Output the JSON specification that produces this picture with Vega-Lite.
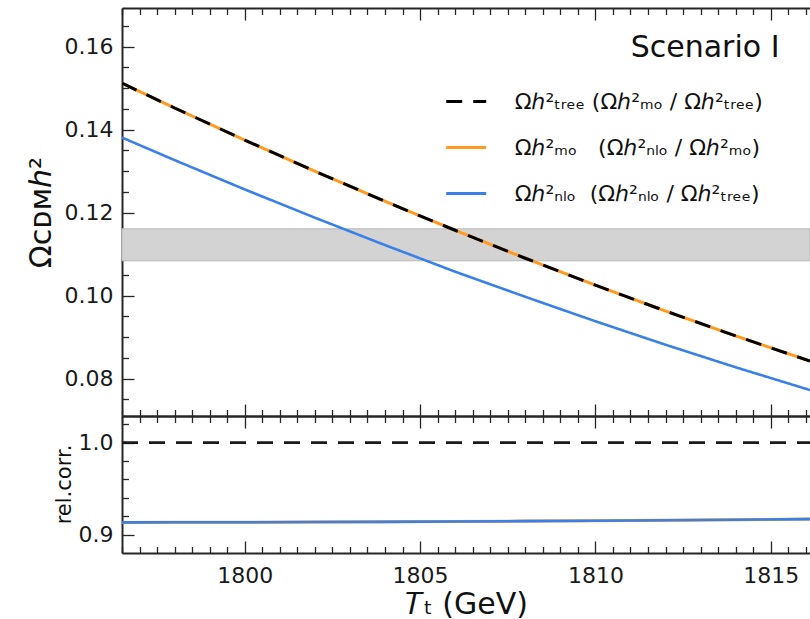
{
  "$schema": "https://vega.github.io/schema/vega-lite/v6.json",
  "background": "white",
  "padding": {"left": 26, "top": 7, "right": 0, "bottom": 0},
  "config": {
    "font": "DejaVu Sans",
    "view": {"stroke": null},
    "axis": {
      "domainColor": "#262626",
      "domainWidth": 2,
      "tickColor": "#262626",
      "tickWidth": 1.3,
      "labelColor": "#1a1a1a",
      "labelFontSize": 22,
      "labelFont": "DejaVu Sans",
      "titleFont": "DejaVu Sans",
      "titleColor": "#111111",
      "titleFontWeight": "normal",
      "grid": false,
      "labelOverlap": false,
      "labelFlush": false,
      "labelBound": false
    },
    "legend": {
      "orient": "none",
      "legendX": 322.7,
      "legendY": 72,
      "symbolType": "stroke",
      "symbolSize": 1600,
      "symbolStrokeWidth": 3,
      "labelFont": "DejaVu Sans",
      "labelFontSize": 22,
      "labelColor": "#111111",
      "labelOffset": 27,
      "rowPadding": 13,
      "labelLimit": 1000,
      "padding": 0
    }
  },
  "datasets": {
    "omega": [
      {"Tt": 1796.5, "series": "tree", "omega": 0.15118},
      {"Tt": 1798, "series": "tree", "omega": 0.14521},
      {"Tt": 1800, "series": "tree", "omega": 0.13747},
      {"Tt": 1802, "series": "tree", "omega": 0.12998},
      {"Tt": 1804, "series": "tree", "omega": 0.12274},
      {"Tt": 1805, "series": "tree", "omega": 0.11921},
      {"Tt": 1806, "series": "tree", "omega": 0.11575},
      {"Tt": 1808, "series": "tree", "omega": 0.10901},
      {"Tt": 1810, "series": "tree", "omega": 0.10252},
      {"Tt": 1812, "series": "tree", "omega": 0.09629},
      {"Tt": 1814, "series": "tree", "omega": 0.0903},
      {"Tt": 1816.12, "series": "tree", "omega": 0.08424},
      {"Tt": 1796.5, "series": "MO", "omega": 0.15118},
      {"Tt": 1798, "series": "MO", "omega": 0.14521},
      {"Tt": 1800, "series": "MO", "omega": 0.13747},
      {"Tt": 1802, "series": "MO", "omega": 0.12998},
      {"Tt": 1804, "series": "MO", "omega": 0.12274},
      {"Tt": 1805, "series": "MO", "omega": 0.11921},
      {"Tt": 1806, "series": "MO", "omega": 0.11575},
      {"Tt": 1808, "series": "MO", "omega": 0.10901},
      {"Tt": 1810, "series": "MO", "omega": 0.10252},
      {"Tt": 1812, "series": "MO", "omega": 0.09629},
      {"Tt": 1814, "series": "MO", "omega": 0.0903},
      {"Tt": 1816.12, "series": "MO", "omega": 0.08424},
      {"Tt": 1796.5, "series": "NLO", "omega": 0.13809},
      {"Tt": 1798, "series": "NLO", "omega": 0.13265},
      {"Tt": 1800, "series": "NLO", "omega": 0.12559},
      {"Tt": 1802, "series": "NLO", "omega": 0.11878},
      {"Tt": 1804, "series": "NLO", "omega": 0.11218},
      {"Tt": 1805, "series": "NLO", "omega": 0.10898},
      {"Tt": 1806, "series": "NLO", "omega": 0.10577},
      {"Tt": 1808, "series": "NLO", "omega": 0.09972},
      {"Tt": 1810, "series": "NLO", "omega": 0.09383},
      {"Tt": 1812, "series": "NLO", "omega": 0.08817},
      {"Tt": 1814, "series": "NLO", "omega": 0.08274},
      {"Tt": 1816.12, "series": "NLO", "omega": 0.07725}
    ],
    "ratio": [
      {"Tt": 1796.5, "series": "tree", "rel": 1.0},
      {"Tt": 1816.12, "series": "tree", "rel": 1.0},
      {"Tt": 1796.5, "series": "MO", "rel": 0.9134},
      {"Tt": 1798, "series": "MO", "rel": 0.9135},
      {"Tt": 1800, "series": "MO", "rel": 0.9136},
      {"Tt": 1802, "series": "MO", "rel": 0.9138},
      {"Tt": 1804, "series": "MO", "rel": 0.914},
      {"Tt": 1806, "series": "MO", "rel": 0.9144},
      {"Tt": 1808, "series": "MO", "rel": 0.9148},
      {"Tt": 1810, "series": "MO", "rel": 0.9152},
      {"Tt": 1812, "series": "MO", "rel": 0.9157},
      {"Tt": 1814, "series": "MO", "rel": 0.9163},
      {"Tt": 1816.12, "series": "MO", "rel": 0.917},
      {"Tt": 1796.5, "series": "NLO", "rel": 0.9134},
      {"Tt": 1798, "series": "NLO", "rel": 0.9135},
      {"Tt": 1800, "series": "NLO", "rel": 0.9136},
      {"Tt": 1802, "series": "NLO", "rel": 0.9138},
      {"Tt": 1804, "series": "NLO", "rel": 0.914},
      {"Tt": 1806, "series": "NLO", "rel": 0.9144},
      {"Tt": 1808, "series": "NLO", "rel": 0.9148},
      {"Tt": 1810, "series": "NLO", "rel": 0.9152},
      {"Tt": 1812, "series": "NLO", "rel": 0.9157},
      {"Tt": 1814, "series": "NLO", "rel": 0.9163},
      {"Tt": 1816.12, "series": "NLO", "rel": 0.917}
    ],
    "band": [
      {"lo": 0.1084, "hi": 0.1161}
    ]
  },
  "spacing": 0,
  "bounds": "flush",
  "vconcat": [
    {
      "width": 688,
      "height": 408,
      "layer": [
        {
          "data": {"name": "band"},
          "mark": {"type": "rect", "fill": "#d3d3d3", "stroke": "#b9b9b9", "strokeWidth": 1},
          "encoding": {
            "x": {"datum": 1796.5, "type": "quantitative", "scale": {"domain": [1796.5, 1816.12], "nice": false, "zero": false}, "axis": null},
            "x2": {"datum": 1816.12},
            "y": {
              "field": "lo", "type": "quantitative",
              "scale": {"domain": [0.071, 0.1693], "nice": false, "zero": false},
              "axis": {
                "orient": "left",
                "values": [0.075, 0.08, 0.085, 0.09, 0.095, 0.1, 0.105, 0.11, 0.115, 0.12, 0.125, 0.13, 0.135, 0.14, 0.145, 0.15, 0.155, 0.16, 0.165],
                "tickSize": {"condition": {"test": "abs(datum.value * 50 - round(datum.value * 50)) < 1e-6", "value": -12}, "value": -6.5},
                "labelExpr": "abs(datum.value * 50 - round(datum.value * 50)) < 1e-6 ? format(datum.value, '.2f') : ''",
                "labelPadding": 21,
                "title": "Ωᴄᴅᴍℎ²",
                "titleFontSize": 30,
                "titleAngle": -90,
                "titleX": -72,
                "titleY": 204,
                "titleAlign": "center",
                "titleBaseline": "alphabetic"
              }
            },
            "y2": {"field": "hi"}
          }
        },
        {
          "data": {"name": "omega"},
          "transform": [{"filter": "datum.series === 'MO'"}],
          "mark": {"type": "line", "strokeWidth": 3, "clip": true},
          "encoding": {
            "x": {
              "field": "Tt", "type": "quantitative",
              "scale": {"domain": [1796.5, 1816.12], "nice": false, "zero": false},
              "axis": {
                "orient": "bottom",
                "values": [1796.5, 1797, 1797.5, 1798, 1798.5, 1799, 1799.5, 1800, 1800.5, 1801, 1801.5, 1802, 1802.5, 1803, 1803.5, 1804, 1804.5, 1805, 1805.5, 1806, 1806.5, 1807, 1807.5, 1808, 1808.5, 1809, 1809.5, 1810, 1810.5, 1811, 1811.5, 1812, 1812.5, 1813, 1813.5, 1814, 1814.5, 1815, 1815.5, 1816],
                "tickSize": {"condition": {"test": "datum.value % 5 === 0", "value": -12}, "value": -6.5},
                "labels": false,
                "title": null
              }
            },
            "y": {"field": "omega", "type": "quantitative", "scale": {"domain": [0.071, 0.1693], "nice": false, "zero": false}, "axis": null},
            "color": {
              "field": "series", "type": "nominal", "title": null,
              "scale": {"domain": ["tree", "MO", "NLO"], "range": ["#000000", "#ff9a1e", "#3a80e8"]},
              "legend": {"labelExpr": "datum.value === 'tree' ? 'Ωℎ²ₜᵣₑₑ (Ωℎ²ₘₒ / Ωℎ²ₜᵣₑₑ)' : datum.value === 'MO' ? 'Ωℎ²ₘₒ\u00a0\u00a0\u00a0(Ωℎ²ₙₗₒ / Ωℎ²ₘₒ)' : 'Ωℎ²ₙₗₒ\u00a0\u00a0(Ωℎ²ₙₗₒ / Ωℎ²ₜᵣₑₑ)'"}
            },
            "strokeDash": {
              "field": "series", "type": "nominal", "title": null,
              "scale": {"domain": ["tree", "MO", "NLO"], "range": [[16, 11], [1, 0], [1, 0]]},
              "legend": {"labelExpr": "datum.value === 'tree' ? 'Ωℎ²ₜᵣₑₑ (Ωℎ²ₘₒ / Ωℎ²ₜᵣₑₑ)' : datum.value === 'MO' ? 'Ωℎ²ₘₒ\u00a0\u00a0\u00a0(Ωℎ²ₙₗₒ / Ωℎ²ₘₒ)' : 'Ωℎ²ₙₗₒ\u00a0\u00a0(Ωℎ²ₙₗₒ / Ωℎ²ₜᵣₑₑ)'"}
            }
          }
        },
        {
          "data": {"name": "omega"},
          "transform": [{"filter": "datum.series === 'NLO'"}],
          "mark": {"type": "line", "strokeWidth": 2.6, "clip": true},
          "encoding": {
            "x": {
              "field": "Tt", "type": "quantitative",
              "scale": {"domain": [1796.5, 1816.12], "nice": false, "zero": false},
              "axis": {
                "orient": "top",
                "values": [1796.5, 1797, 1797.5, 1798, 1798.5, 1799, 1799.5, 1800, 1800.5, 1801, 1801.5, 1802, 1802.5, 1803, 1803.5, 1804, 1804.5, 1805, 1805.5, 1806, 1806.5, 1807, 1807.5, 1808, 1808.5, 1809, 1809.5, 1810, 1810.5, 1811, 1811.5, 1812, 1812.5, 1813, 1813.5, 1814, 1814.5, 1815, 1815.5, 1816],
                "tickSize": {"condition": {"test": "datum.value % 5 === 0", "value": -12}, "value": -6.5},
                "labels": false,
                "title": null
              }
            },
            "y": {"field": "omega", "type": "quantitative", "scale": {"domain": [0.071, 0.1693], "nice": false, "zero": false}, "axis": null},
            "color": {"field": "series", "type": "nominal", "title": null},
            "strokeDash": {"field": "series", "type": "nominal", "title": null}
          }
        },
        {
          "data": {"name": "omega"},
          "transform": [{"filter": "datum.series === 'tree'"}],
          "mark": {"type": "line", "strokeWidth": 3, "clip": true},
          "encoding": {
            "x": {"field": "Tt", "type": "quantitative", "scale": {"domain": [1796.5, 1816.12], "nice": false, "zero": false}, "axis": null},
            "y": {"field": "omega", "type": "quantitative", "scale": {"domain": [0.071, 0.1693], "nice": false, "zero": false}, "axis": null},
            "color": {"field": "series", "type": "nominal", "title": null},
            "strokeDash": {"field": "series", "type": "nominal", "title": null}
          }
        },
        {
          "data": {"values": [{"label": "Scenario I"}]},
          "mark": {"type": "text", "align": "right", "baseline": "alphabetic", "fontSize": 30, "font": "DejaVu Sans", "color": "#111111"},
          "encoding": {
            "x": {"datum": 1815.25, "type": "quantitative", "scale": {"domain": [1796.5, 1816.12], "nice": false, "zero": false}, "axis": null},
            "y": {"datum": 0.1575, "type": "quantitative", "scale": {"domain": [0.071, 0.1693], "nice": false, "zero": false}, "axis": null},
            "text": {"field": "label"}
          }
        }
      ],
      "resolve": {"axis": {"x": "independent", "y": "independent"}}
    },
    {
      "width": 688,
      "height": 137,
      "layer": [
        {
          "data": {"name": "ratio"},
          "transform": [{"filter": "datum.series === 'tree'"}],
          "mark": {"type": "line", "strokeWidth": 2.6, "color": "#1a1a1a", "strokeDash": [16, 11], "clip": true},
          "encoding": {
            "x": {
              "field": "Tt", "type": "quantitative",
              "scale": {"domain": [1796.5, 1816.12], "nice": false, "zero": false},
              "axis": {
                "orient": "bottom",
                "values": [1796.5, 1797, 1797.5, 1798, 1798.5, 1799, 1799.5, 1800, 1800.5, 1801, 1801.5, 1802, 1802.5, 1803, 1803.5, 1804, 1804.5, 1805, 1805.5, 1806, 1806.5, 1807, 1807.5, 1808, 1808.5, 1809, 1809.5, 1810, 1810.5, 1811, 1811.5, 1812, 1812.5, 1813, 1813.5, 1814, 1814.5, 1815, 1815.5, 1816],
                "tickSize": {"condition": {"test": "datum.value % 5 === 0", "value": -12}, "value": -6.5},
                "labelExpr": "datum.value % 5 === 0 ? format(datum.value, 'd') : ''",
                "labelPadding": 24,
                "title": "𝑇ₜ (GeV)",
                "titleFontSize": 30,
                "titleX": 344,
                "titleY": 60,
                "titleAlign": "center",
                "titleBaseline": "alphabetic"
              }
            },
            "y": {
              "field": "rel", "type": "quantitative",
              "scale": {"domain": [0.8802, 1.0289], "nice": false, "zero": false},
              "axis": {
                "orient": "left",
                "values": [0.9, 0.92, 0.94, 0.96, 0.98, 1.0, 1.02],
                "tickSize": {"condition": {"test": "abs(datum.value * 10 - round(datum.value * 10)) < 1e-6", "value": -12}, "value": -6.5},
                "labelExpr": "abs(datum.value * 10 - round(datum.value * 10)) < 1e-6 ? format(datum.value, '.1f') : ''",
                "labelPadding": 21,
                "title": "rel.corr.",
                "titleFontSize": 21,
                "titleAngle": -90,
                "titleX": -52,
                "titleY": 68,
                "titleAlign": "center",
                "titleBaseline": "alphabetic"
              }
            }
          }
        },
        {
          "data": {"name": "ratio"},
          "transform": [{"filter": "datum.series === 'MO'"}],
          "mark": {"type": "line", "strokeWidth": 3, "color": "#ff9a1e", "clip": true},
          "encoding": {
            "x": {
              "field": "Tt", "type": "quantitative",
              "scale": {"domain": [1796.5, 1816.12], "nice": false, "zero": false},
              "axis": {
                "orient": "top",
                "values": [1796.5, 1797, 1797.5, 1798, 1798.5, 1799, 1799.5, 1800, 1800.5, 1801, 1801.5, 1802, 1802.5, 1803, 1803.5, 1804, 1804.5, 1805, 1805.5, 1806, 1806.5, 1807, 1807.5, 1808, 1808.5, 1809, 1809.5, 1810, 1810.5, 1811, 1811.5, 1812, 1812.5, 1813, 1813.5, 1814, 1814.5, 1815, 1815.5, 1816],
                "tickSize": {"condition": {"test": "datum.value % 5 === 0", "value": -12}, "value": -6.5},
                "labels": false,
                "title": null
              }
            },
            "y": {"field": "rel", "type": "quantitative", "scale": {"domain": [0.8802, 1.0289], "nice": false, "zero": false}, "axis": null}
          }
        },
        {
          "data": {"name": "ratio"},
          "transform": [{"filter": "datum.series === 'NLO'"}],
          "mark": {"type": "line", "strokeWidth": 2.6, "color": "#3a80e8", "clip": true},
          "encoding": {
            "x": {"field": "Tt", "type": "quantitative", "scale": {"domain": [1796.5, 1816.12], "nice": false, "zero": false}, "axis": null},
            "y": {"field": "rel", "type": "quantitative", "scale": {"domain": [0.8802, 1.0289], "nice": false, "zero": false}, "axis": null}
          }
        }
      ],
      "resolve": {"axis": {"x": "independent", "y": "independent"}}
    }
  ]
}
